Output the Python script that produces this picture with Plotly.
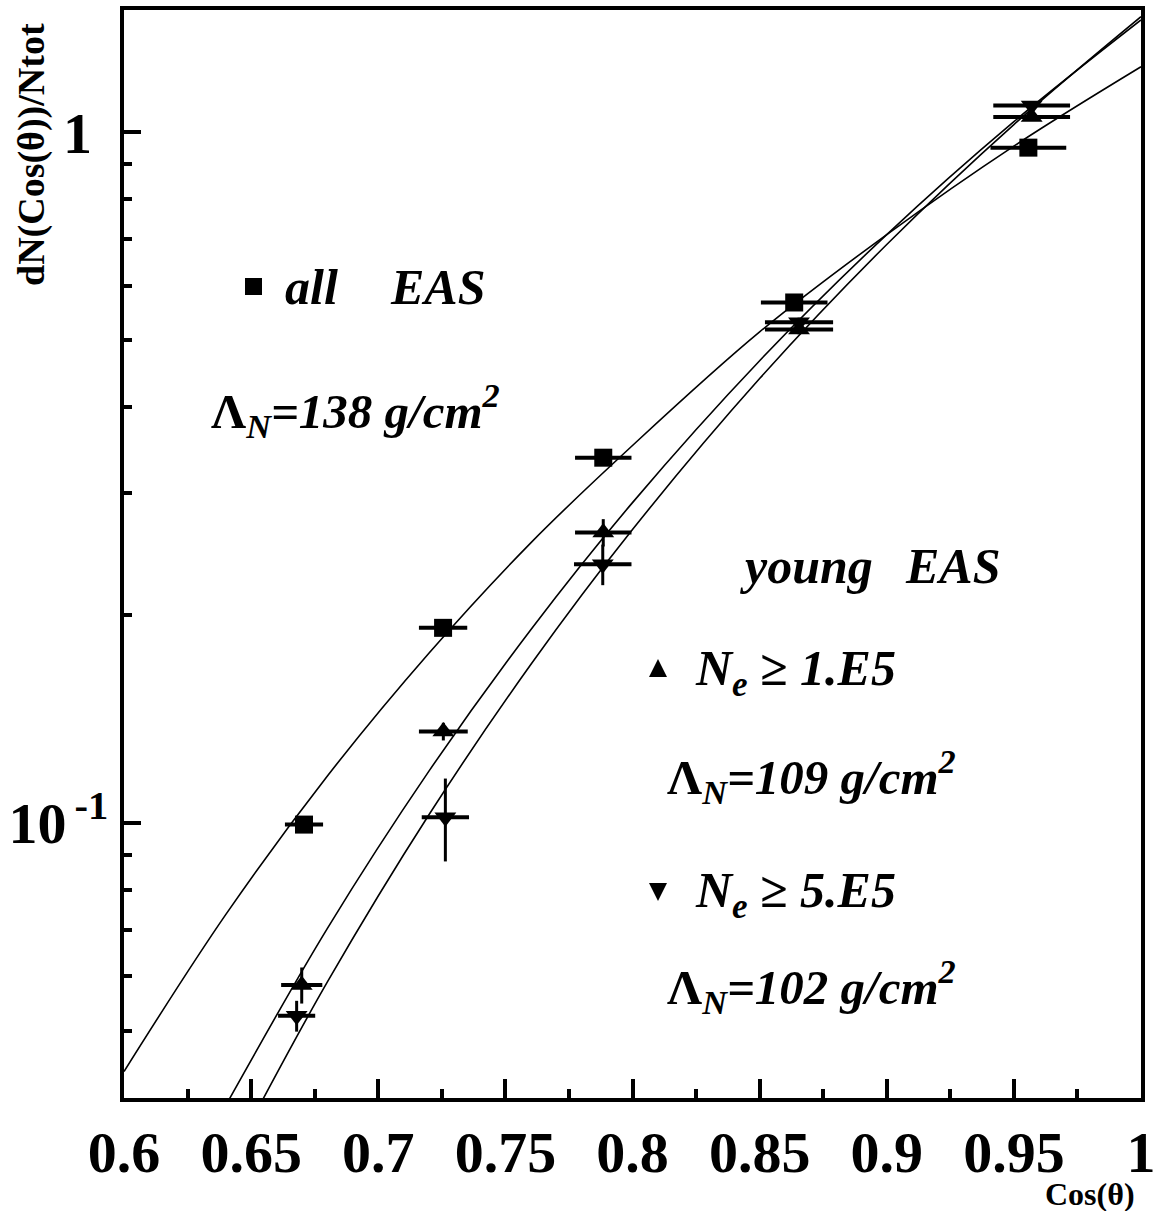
import plotly.graph_objects as go

# ---------------- data ----------------
# all EAS (squares)
x_all = [0.6708, 0.7255, 0.7885, 0.8636, 0.9557]
y_all = [0.0995, 0.1917, 0.338, 0.567, 0.950]
ex_all = [0.0075, 0.0095, 0.0111, 0.0131, 0.0149]
ey_all = [0.002, 0.004, 0.006, 0.008, 0.010]

# young EAS, Ne >= 1.E5 (up triangles)
x_up = [0.6699, 0.7256, 0.7885, 0.8655, 0.9570]
y_up = [0.0583, 0.1357, 0.2634, 0.518, 1.052]
ex_up = [0.0081, 0.0096, 0.0111, 0.0134, 0.0151]
ey_up = [0.0035, 0.004, 0.012, 0.008, 0.008]

# young EAS, Ne >= 5.E5 (down triangles)
x_dn = [0.6679, 0.7264, 0.7883, 0.8655, 0.9570]
y_dn = [0.0526, 0.1020, 0.237, 0.531, 1.093]
ex_dn = [0.0073, 0.0093, 0.0113, 0.0134, 0.0151]
ey_dn = [0.0027, 0.014, 0.016, 0.008, 0.008]

# fitted curves
fit_x_all = [0.60, 0.64, 0.68, 0.72, 0.76, 0.80, 0.85, 0.90, 0.95, 1.00]
fit_y_all = [0.0437, 0.0737, 0.1170, 0.1763, 0.2545, 0.352, 0.514, 0.711, 0.955, 1.244]
fit_x_up = [0.64, 0.68, 0.72, 0.76, 0.80, 0.85, 0.90, 0.95, 1.00]
fit_y_up = [0.0390, 0.0704, 0.1190, 0.1905, 0.291, 0.467, 0.711, 1.036, 1.454]
fit_x_dn = [0.65, 0.68, 0.72, 0.76, 0.80, 0.85, 0.90, 0.95, 1.00]
fit_y_dn = [0.0370, 0.0589, 0.1029, 0.1696, 0.266, 0.440, 0.688, 1.026, 1.470]

x_ticks = [0.6, 0.65, 0.7, 0.75, 0.8, 0.85, 0.9, 0.95, 1.0]
x_ticktext = ["0.6", "0.65", "0.7", "0.75", "0.8", "0.85", "0.9", "0.95", "1"]
x_minor = [0.625, 0.675, 0.725, 0.775, 0.825, 0.875, 0.925, 0.975]
y_ticks = [0.1, 1.0]
y_ticktext = ["10<sup>\u2009-1</sup>", "1\u2009\u200a"]
y_minor = [0.05, 0.06, 0.07, 0.08, 0.09, 0.2, 0.3, 0.4, 0.5, 0.6, 0.7, 0.8, 0.9]

FONT = "Liberation Serif"

# ---------------- figure ----------------
W, H = 1156, 1211
L, R, T, B = 124, 15, 10, 113
PW, PH = W - L - R, H - T - B


def px(xp):
    return (xp - L) / PW


def py(yp):
    return (H - B - yp) / PH


fig = go.Figure()

for fx, fy in [(fit_x_all, fit_y_all), (fit_x_up, fit_y_up), (fit_x_dn, fit_y_dn)]:
    fig.add_trace(go.Scatter(x=fx, y=fy, mode="lines",
                             line=dict(color="black", width=1.6, shape="spline", smoothing=1.0),
                             showlegend=False, hoverinfo="skip"))

for xs, ys, exs, eys, sym, sz in [
    (x_all, y_all, ex_all, ey_all, "square", 18),
    (x_up, y_up, ex_up, ey_up, "triangle-up", 19),
    (x_dn, y_dn, ex_dn, ey_dn, "triangle-down", 19),
]:
    fig.add_trace(go.Scatter(
        x=xs, y=ys, mode="markers",
        marker=dict(symbol=sym, size=sz, color="black", line=dict(width=0)),
        error_x=dict(type="data", array=exs, color="black", thickness=4, width=0),
        error_y=dict(type="data", array=eys, color="black", thickness=3, width=0),
        showlegend=False))

annotations = []


def txt(text, x, y, size, xanchor="left", yanchor="middle", angle=0, bold=True):
    annotations.append(dict(
        text=text, x=px(x), y=py(y), xref="paper", yref="paper",
        xanchor=xanchor, yanchor=yanchor, showarrow=False, textangle=angle,
        font=dict(family=FONT, size=size, color="black", weight="bold" if bold else "normal")))


txt("<i>all</i>", 283, 287, 50)
txt("<i>EAS</i>", 388, 287, 50)
txt("Λ<sub><i>N</i></sub><i>=138 g/cm<sup>2</sup></i>", 209, 410, 49)
txt("<i>young</i>", 738, 566, 50)
txt("<i>EAS</i>", 903, 566, 50)
txt("<i>N<sub>e</sub></i> ≥ <i>1.E5</i>", 693, 672, 50)
txt("Λ<sub><i>N</i></sub><i>=109 g/cm<sup>2</sup></i>", 665, 776, 49)
txt("<i>N<sub>e</sub></i> ≥ <i>5.E5</i>", 693, 894, 50)
txt("Λ<sub><i>N</i></sub><i>=102 g/cm<sup>2</sup></i>", 665, 986, 49)

# axis titles
txt("dN(Cos(θ))/Ntot", 31, 155, 38, xanchor="center", angle=-90)
txt("Cos(θ)", 1090, 1194, 32, xanchor="center")

# legend keys
shapes = [
    dict(type="rect", xref="paper", yref="paper", x0=px(245), x1=px(262), y0=py(295), y1=py(278),
         fillcolor="black", line=dict(width=0)),
    dict(type="path", xref="paper", yref="paper",
         path=f"M {px(649)},{py(677)} L {px(667)},{py(677)} L {px(658)},{py(659)} Z",
         fillcolor="black", line=dict(width=0)),
    dict(type="path", xref="paper", yref="paper",
         path=f"M {px(649)},{py(883)} L {px(667)},{py(883)} L {px(658)},{py(901)} Z",
         fillcolor="black", line=dict(width=0)),
]

fig.update_layout(
    width=W, height=H,
    margin=dict(l=L, r=R, t=T, b=B, pad=0, autoexpand=False),
    paper_bgcolor="white", plot_bgcolor="white",
    showlegend=False,
    annotations=annotations,
    shapes=shapes,
    xaxis=dict(
        range=[0.6, 1.0], showgrid=False, zeroline=False, automargin=False,
        showline=True, linecolor="black", linewidth=4, mirror=True,
        tickmode="array", tickvals=x_ticks, ticktext=x_ticktext,
        ticks="inside", ticklen=19, tickwidth=3.5, tickcolor="black",
        tickfont=dict(family=FONT, size=58, color="black", weight="bold"),
        minor=dict(tickmode="array", tickvals=x_minor, ticks="inside", ticklen=9,
                   tickwidth=3.5, tickcolor="black", showgrid=False),
    ),
    yaxis=dict(
        type="log", range=[-1.39794, 0.17696], showgrid=False, zeroline=False, automargin=False,
        showline=True, linecolor="black", linewidth=4, mirror=True,
        tickmode="array", tickvals=y_ticks, ticktext=y_ticktext,
        ticks="inside", ticklen=17, tickwidth=3.5, tickcolor="black",
        tickfont=dict(family=FONT, size=58, color="black", weight="bold"),
        minor=dict(tickmode="array", tickvals=y_minor, ticks="inside", ticklen=8,
                   tickwidth=3.5, tickcolor="black", showgrid=False),
    ),
)

fig.write_html("out.html",
               config={"displayModeBar": False},
               post_script="document.body.style.margin='0';document.body.style.overflow='hidden';")
